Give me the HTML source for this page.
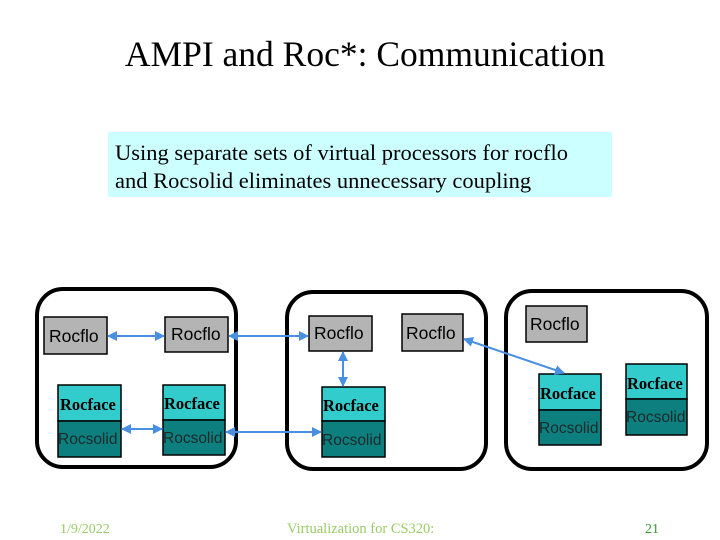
<!DOCTYPE html>
<html><head><meta charset="utf-8"><style>
html,body{margin:0;padding:0;background:#fff;}
svg{display:block}
</style></head><body>
<svg width="720" height="540" xmlns="http://www.w3.org/2000/svg">
<defs>
<marker id="a" viewBox="0 0 10 10" refX="9" refY="5" markerWidth="5" markerHeight="5" orient="auto-start-reverse"><path d="M0,0 L10,5 L0,10 z" fill="#4a90e2"/></marker>
</defs>
<text x="365" y="66" text-anchor="middle" font-family="Liberation Serif, serif" font-size="35.5" fill="#000">AMPI and Roc*: Communication</text>
<rect x="108" y="132" width="504" height="65" fill="#ccffff"/>
<text x="115" y="160" font-family="Liberation Serif, serif" font-size="22.5">Using separate sets of virtual processors for rocflo</text>
<text x="115" y="188" font-family="Liberation Serif, serif" font-size="22.5">and Rocsolid eliminates unnecessary coupling</text>

<g fill="none" stroke="#000" stroke-width="4">
<rect x="37" y="289" width="199" height="178" rx="26"/>
<rect x="287" y="292" width="199" height="177" rx="26"/>
<rect x="506" y="291" width="201" height="178" rx="26"/>
</g>

<g stroke="#000" stroke-width="1.5">
<rect x="44" y="317" width="63" height="37" fill="#b4b4b4"/>
<rect x="165" y="317" width="63" height="35" fill="#b4b4b4"/>
<rect x="309" y="316" width="63" height="35" fill="#b4b4b4"/>
<rect x="402" y="314" width="61" height="37" fill="#b4b4b4"/>
<rect x="526" y="306" width="61" height="36" fill="#b4b4b4"/>

<rect x="58" y="385" width="63" height="36" fill="#33cccc"/>
<rect x="58" y="421" width="63" height="36" fill="#0e7f7f"/>
<rect x="163" y="385" width="62" height="35" fill="#33cccc"/>
<rect x="163" y="420" width="62" height="35" fill="#0e7f7f"/>
<rect x="322" y="387" width="63" height="34" fill="#33cccc"/>
<rect x="322" y="421" width="63" height="36" fill="#0e7f7f"/>
<rect x="539" y="374" width="62" height="36" fill="#33cccc"/>
<rect x="539" y="410" width="62" height="35" fill="#0e7f7f"/>
<rect x="626" y="364" width="61" height="35" fill="#33cccc"/>
<rect x="626" y="399" width="61" height="36" fill="#0e7f7f"/>
</g>

<g font-family="Liberation Sans, sans-serif" font-size="17.5" fill="#000">
<text x="49" y="342">Rocflo</text>
<text x="171" y="340">Rocflo</text>
<text x="314" y="339">Rocflo</text>
<text x="406" y="339">Rocflo</text>
<text x="530" y="330">Rocflo</text>
</g>
<g font-family="Liberation Serif, serif" font-size="16.5" fill="#000" font-weight="bold">
<text x="60" y="410">Rocface</text>
<text x="164" y="409">Rocface</text>
<text x="323" y="411">Rocface</text>
<text x="540" y="399">Rocface</text>
<text x="627" y="389">Rocface</text>
</g>
<g font-family="Liberation Sans, sans-serif" font-size="15.5" fill="#1a2a2a">
<text x="58" y="444">Rocsolid</text>
<text x="163" y="443">Rocsolid</text>
<text x="322" y="445">Rocsolid</text>
<text x="539" y="433">Rocsolid</text>
<text x="626" y="422">Rocsolid</text>
</g>

<g stroke="#4a90e2" stroke-width="2" marker-start="url(#a)" marker-end="url(#a)">
<line x1="108" y1="336" x2="164" y2="336"/>
<line x1="229" y1="336" x2="308" y2="336"/>
<line x1="122" y1="429" x2="162" y2="429"/>
<line x1="226" y1="432" x2="321" y2="432"/>
<line x1="343" y1="352" x2="343" y2="386"/>
<line x1="464" y1="339" x2="564" y2="373"/>
</g>

<text x="60" y="533" font-family="Liberation Serif, serif" font-size="14" fill="#99cc66">1/9/2022</text>
<text x="287" y="533" font-family="Liberation Serif, serif" font-size="14.5" fill="#99cc66">Virtualization for CS320:</text>
<text x="645" y="533" font-family="Liberation Serif, serif" font-size="14" fill="#339933">21</text>
</svg>
</body></html>
